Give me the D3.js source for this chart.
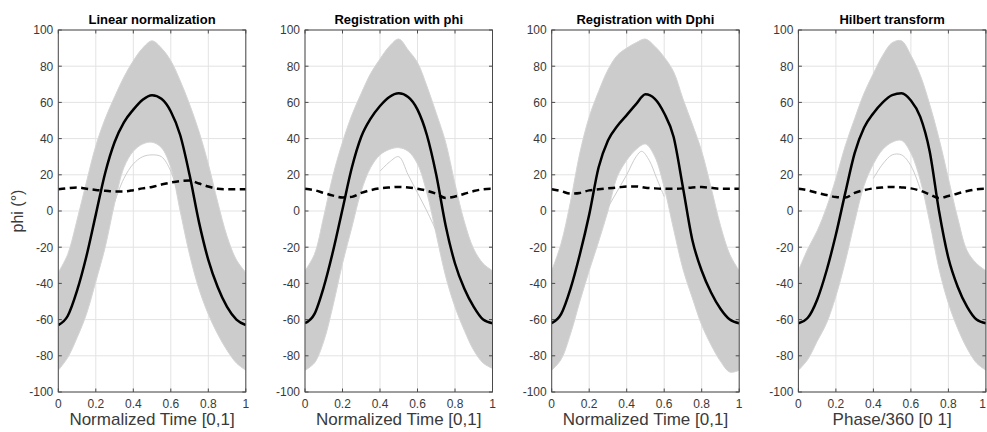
<!DOCTYPE html>
<html>
<head>
<meta charset="utf-8">
<script src="https://cdnjs.cloudflare.com/ajax/libs/d3/7.8.5/d3.min.js"></script>
<style>
body { margin: 0; background: #fff; }
text { font-family: "Liberation Sans", Arial, Helvetica, sans-serif; }
</style>
</head>
<body>
<div id="chart"></div>
<script>
// sample positions along the cycle (normalized time / phase)
var t_values = [0, 0.05, 0.1, 0.15, 0.2, 0.25, 0.3, 0.35, 0.4, 0.45, 0.5, 0.55, 0.6, 0.65, 0.7, 0.75, 0.8, 0.85, 0.9, 0.95, 1];

var titles = ["Linear normalization", "Registration with phi", "Registration with Dphi", "Hilbert transform"];
var x_labels = ["Normalized Time [0,1]", "Normalized Time [0,1]", "Normalized Time [0,1]", "Phase/360 [0 1]"];
var y_label = "phi (\u00b0)";
var x_ticks = [0, 0.2, 0.4, 0.6, 0.8, 1];
var x_tick_labels = ["0", "0.2", "0.4", "0.6", "0.8", "1"];
var y_ticks = [-100, -80, -60, -40, -20, 0, 20, 40, 60, 80, 100];

// mean curves (solid black)
var mean_lin  = [-63, -58, -44, -25, -2, 21, 38, 49, 56, 61.5, 64, 62, 55, 42, 20, -6, -27, -42, -53, -60, -63];
var mean_phi  = [-62, -57, -42, -22, 1, 24, 41, 51, 58, 63, 65, 63, 56, 42, 20, -8, -29, -43, -53, -60, -62];
var mean_dphi = [-62, -57, -43, -24, -2, 24, 39, 47, 53, 59, 64.5, 62, 54, 41, 13, -16, -33, -45, -54, -60, -62];
var mean_hil  = [-62, -59, -49, -33, -13, 10, 32, 46, 54, 60, 64, 65, 61, 52, 33, 0, -26, -42, -53, -60, -62];

// standard deviation curves (dashed black)
var std_lin  = [12, 12.6, 13, 12.3, 11.6, 11.2, 10.8, 10.8, 11.5, 12.5, 13.3, 14.6, 15.7, 16.5, 16.8, 15.2, 13.5, 12.3, 12, 12, 12];
var std_phi  = [12.3, 11.5, 10, 8.5, 7.5, 7.8, 10, 11.5, 12.5, 13, 13.3, 13, 12.3, 11.2, 9.5, 7.2, 8, 9.5, 11, 12, 12.3];
var std_dphi = [12, 11, 9.6, 10, 11.4, 12, 12.5, 13, 13.5, 13.6, 12.9, 12.5, 12.3, 12.3, 12.5, 13, 13.2, 12.8, 12.3, 12.3, 12.3];
var std_hil  = [12.3, 11.5, 10, 8.8, 7.7, 7.4, 10, 11.5, 12.5, 13, 13.3, 13, 12.5, 11.2, 9.2, 7.2, 8.3, 9.7, 11, 12, 12.3];

// upper / lower limits of the bundle of individual cycles (light gray)
var upper_lin  = [-34, -24, -5, 16, 36, 51, 63, 74, 83, 90, 94, 90, 83, 72, 59, 44, 26, 5, -14, -27, -34];
var lower_lin  = [-88, -81, -70, -57, -39, -20, 4, 24, 33, 37, 38, 35, 24, 0, -24, -43, -57, -68, -77, -84, -88];
var upper_phi  = [-33, -24, -3, 20, 38, 53, 65, 76, 84, 91, 95, 89, 82, 69, 54, 38, 15, -6, -21, -29, -33];
var lower_phi  = [-88, -84, -72, -52, -29, -9, 11, 24, 31, 34, 35, 33, 26, 10, -13, -36, -53, -66, -77, -84, -87];
var upper_dphi = [-33, -18, 5, 32, 52, 66, 78, 86, 90, 93, 95, 91, 85, 77, 62, 48, 33, 13, -8, -24, -33];
var lower_dphi = [-88, -82, -68, -50, -33, -17, 0, 19, 28, 34, 37, 30, 13, -10, -32, -48, -63, -74, -83, -89, -88];
var upper_hil  = [-33, -21, -11, 2, 18, 36, 51, 65, 76, 86, 93, 94, 86, 75, 59, 40, 18, -4, -22, -29, -33];
var lower_hil  = [-88, -82, -72, -62, -47, -28, -6, 14, 26, 34, 38, 39, 32, 17, -6, -32, -51, -65, -76, -84, -88];

// a few stray cycles that stick out below the bundle
var stray_lin_t  = [0.3, 0.35, 0.4, 0.45, 0.5, 0.55, 0.6, 0.65];
var stray_lin    = [5, 18, 26, 30, 31, 30, 22, 5];
var stray_phi_t  = [0.4, 0.45, 0.5, 0.55, 0.6, 0.65, 0.7];
var stray_phi    = [22, 27, 30, 20, 10, 0, -11];
var stray_dphi_t = [0.2, 0.25, 0.3, 0.35, 0.4, 0.45, 0.48, 0.52, 0.56, 0.6];
var stray_dphi   = [-15, -7, 2, 11, 20, 30, 33, 28, 18, 8];
var stray_hil_t  = [0.4, 0.45, 0.5, 0.55, 0.6, 0.65];
var stray_hil    = [18, 26, 31, 31, 25, 12];

var panels = [
    {mean: mean_lin, std: std_lin, upper: upper_lin, lower: lower_lin, stray_t: stray_lin_t, stray: stray_lin},
    {mean: mean_phi, std: std_phi, upper: upper_phi, lower: lower_phi, stray_t: stray_phi_t, stray: stray_phi},
    {mean: mean_dphi, std: std_dphi, upper: upper_dphi, lower: lower_dphi, stray_t: stray_dphi_t, stray: stray_dphi},
    {mean: mean_hil, std: std_hil, upper: upper_hil, lower: lower_hil, stray_t: stray_hil_t, stray: stray_hil}
];

var svg = d3.select("#chart").append("svg")
            .attr("width", 987)
            .attr("height", 432);

var plot_left = 58.3;
var plot_step = 246.7;
var plot_width = 187.5;
var plot_top = 30;
var plot_bottom = 392;
var tick_len = 3.5;

var y = d3.scaleLinear().domain([-100, 100]).range([plot_bottom, plot_top]);

for (var i = 0; i < panels.length; i++) {
    var p = panels[i];
    var x0 = plot_left + i * plot_step;
    var x = d3.scaleLinear().domain([0, 1]).range([x0, x0 + plot_width]);

    svg.append("clipPath").attr("id", "clip" + i)
        .append("rect")
        .attr("x", x0).attr("y", plot_top)
        .attr("width", plot_width).attr("height", plot_bottom - plot_top);

    var g = svg.append("g");

    // grid
    g.selectAll(".gx").data(x_ticks).enter().append("line")
        .attr("x1", function(d){ return x(d); }).attr("x2", function(d){ return x(d); })
        .attr("y1", plot_top).attr("y2", plot_bottom)
        .attr("stroke", "#e3e3e3").attr("stroke-width", 1);
    g.selectAll(".gy").data(y_ticks).enter().append("line")
        .attr("x1", x0).attr("x2", x0 + plot_width)
        .attr("y1", function(d){ return y(d); }).attr("y2", function(d){ return y(d); })
        .attr("stroke", "#e3e3e3").attr("stroke-width", 1);

    var data_g = g.append("g").attr("clip-path", "url(#clip" + i + ")");

    var band = d3.area()
        .x(function(d, k){ return x(t_values[k]); })
        .y0(function(d, k){ return y(p.lower[k]); })
        .y1(function(d, k){ return y(p.upper[k]); })
        .curve(d3.curveCatmullRom);

    data_g.append("path")
        .attr("d", band(t_values))
        .attr("fill", "#cccccc")
        .attr("stroke", "#d4d4d4")
        .attr("stroke-width", 1);

    var stray_line = d3.line()
        .x(function(d, k){ return x(p.stray_t[k]); })
        .y(function(d){ return y(d); })
        .curve(d3.curveCatmullRom);

    data_g.append("path")
        .attr("d", stray_line(p.stray))
        .attr("fill", "none")
        .attr("stroke", "#cdcdcd")
        .attr("stroke-width", 1);

    var curve_line = d3.line()
        .x(function(d, k){ return x(t_values[k]); })
        .y(function(d){ return y(d); })
        .curve(d3.curveMonotoneX);

    data_g.append("path")
        .attr("d", curve_line(p.std))
        .attr("fill", "none")
        .attr("stroke", "#000")
        .attr("stroke-width", 2.5)
        .attr("stroke-dasharray", "7,4.5");

    data_g.append("path")
        .attr("d", curve_line(p.mean))
        .attr("fill", "none")
        .attr("stroke", "#000")
        .attr("stroke-width", 2.5);

    // box
    g.append("rect")
        .attr("x", x0).attr("y", plot_top)
        .attr("width", plot_width).attr("height", plot_bottom - plot_top)
        .attr("fill", "none")
        .attr("stroke", "#4a4a4a")
        .attr("stroke-width", 1);

    // inner ticks on all four sides
    g.selectAll(".tb").data(x_ticks).enter().append("line")
        .attr("x1", function(d){ return x(d); }).attr("x2", function(d){ return x(d); })
        .attr("y1", plot_bottom).attr("y2", plot_bottom - tick_len)
        .attr("stroke", "#4a4a4a");
    g.selectAll(".tt").data(x_ticks).enter().append("line")
        .attr("x1", function(d){ return x(d); }).attr("x2", function(d){ return x(d); })
        .attr("y1", plot_top).attr("y2", plot_top + tick_len)
        .attr("stroke", "#4a4a4a");
    g.selectAll(".tl").data(y_ticks).enter().append("line")
        .attr("x1", x0).attr("x2", x0 + tick_len)
        .attr("y1", function(d){ return y(d); }).attr("y2", function(d){ return y(d); })
        .attr("stroke", "#4a4a4a");
    g.selectAll(".tr").data(y_ticks).enter().append("line")
        .attr("x1", x0 + plot_width).attr("x2", x0 + plot_width - tick_len)
        .attr("y1", function(d){ return y(d); }).attr("y2", function(d){ return y(d); })
        .attr("stroke", "#4a4a4a");

    // tick labels (the last one is kept inside the window)
    g.selectAll(".xl").data(x_ticks).enter().append("text")
        .text(function(d, k){ return x_tick_labels[k]; })
        .attr("x", function(d){ return Math.min(x(d), 982.5); })
        .attr("y", plot_bottom + 16)
        .attr("font-size", 12)
        .attr("fill", "#3a3a3a")
        .attr("text-anchor", "middle");
    g.selectAll(".yl").data(y_ticks).enter().append("text")
        .text(function(d){ return d; })
        .attr("x", x0 - 5)
        .attr("y", function(d){ return y(d) + 4.3; })
        .attr("font-size", 12)
        .attr("fill", "#3a3a3a")
        .attr("text-anchor", "end");

    g.append("text")
        .text(titles[i])
        .attr("x", x0 + plot_width / 2)
        .attr("y", 24)
        .attr("font-size", 13)
        .attr("font-weight", "bold")
        .attr("fill", "#000")
        .attr("text-anchor", "middle");

    g.append("text")
        .text(x_labels[i])
        .attr("x", x0 + plot_width / 2)
        .attr("y", 425)
        .attr("font-size", 17)
        .attr("fill", "#3a3a3a")
        .attr("text-anchor", "middle");
}

svg.append("text")
    .text(y_label)
    .attr("transform", "translate(23,211) rotate(-90)")
    .attr("font-size", 16)
    .attr("fill", "#3a3a3a")
    .attr("text-anchor", "middle");
</script>
</body>
</html>
